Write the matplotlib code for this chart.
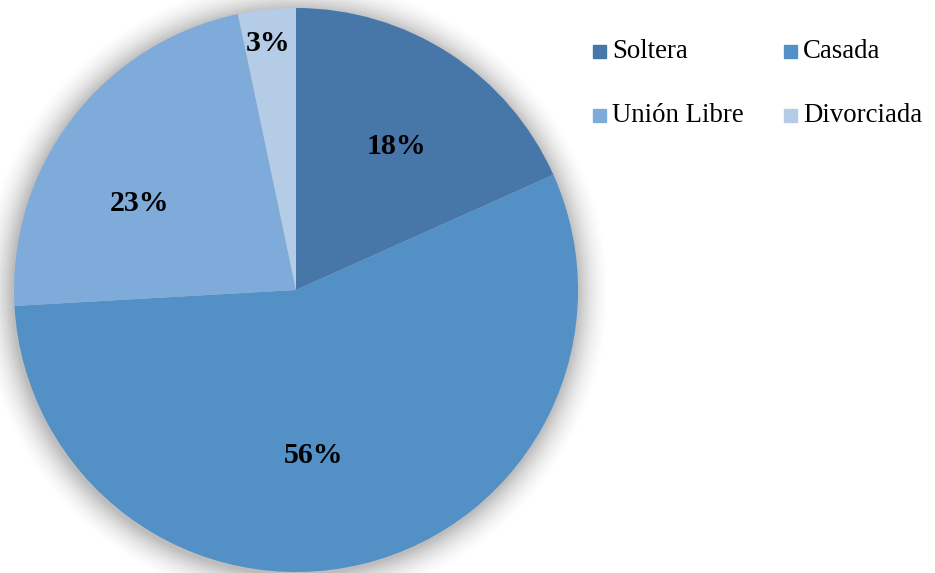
import matplotlib
matplotlib.use("Agg")
import matplotlib.pyplot as plt
import numpy as np
from matplotlib.patches import Circle, Rectangle

labels = ["Soltera", "Casada", "Unión Libre", "Divorciada"]
values = [18.3, 55.8, 22.6, 3.3]
pct_labels = ["18%", "56%", "23%", "3%"]
colors = ["#4677A8", "#5390C6", "#7FABDA", "#B5CCE7"]

W, H = 935, 573
fig = plt.figure(figsize=(W / 100, H / 100), dpi=100)
fig.patch.set_facecolor("white")

cx, cy, r = 296, 290, 282
ax = fig.add_axes([(cx - r) / W, (H - cy - r) / H, 2 * r / W, 2 * r / H])
ax.axis("off")

# soft shadow
for i, a in enumerate(np.linspace(0.022, 0.004, 20)):
    ax.add_patch(Circle((-0.004, -0.008), 1.0 + 0.0055 * (i + 1), color="black",
                        alpha=a, lw=0, zorder=0, clip_on=False))

wedges, _ = ax.pie(values, colors=colors, startangle=90, counterclock=False,
                   radius=1.0, wedgeprops=dict(linewidth=0))
for w in wedges:
    w.set_zorder(2)
ax.set_xlim(-1, 1)
ax.set_ylim(-1, 1)
ax.set_aspect("equal")

# label placement (polar offsets within each wedge, as in the original chart)
label_polar = [(0.62, 55.0), (0.59, -83.8), (0.635, 151.0), (0.878, 96.5)]
font = dict(family="Liberation Serif", weight="bold", fontsize=21.5, color="black")
for (d, angdeg), t in zip(label_polar, pct_labels):
    ang = np.deg2rad(angdeg)
    ax.text(d * np.cos(ang), d * np.sin(ang), t, ha="center", va="center", zorder=3, **font)

# legend
col_x = [593, 784]
row_y = [51, 115]
for i, (lab, c) in enumerate(zip(labels, colors)):
    x = col_x[i % 2]
    y = row_y[i // 2]
    fig.patches.append(Rectangle((x / W, (H - y - 6.5) / H), 13 / W, 13 / H,
                                 transform=fig.transFigure, color=c, figure=fig))
    fig.text((x + 19) / W, (H - y) / H, lab, ha="left", va="center",
             family="Liberation Serif", fontsize=19.3, color="black")

fig.savefig("out.png", dpi=100)
